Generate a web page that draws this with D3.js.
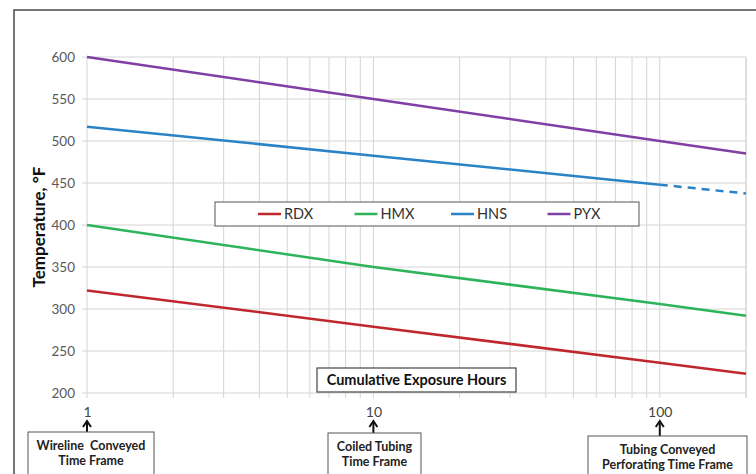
<!DOCTYPE html>
<html>
<head>
<meta charset="utf-8">
<script src="https://cdn.jsdelivr.net/npm/d3@7"></script>
<style>
  body { margin: 0; background: #fff; }
  svg { display: block; font-family: Lato, "Open Sans", sans-serif; }
</style>
</head>
<body>
<svg id="chart" width="756" height="474"></svg>
<script>
// exposure hours (log axis)
var hours = [1, 10, 100, 200];
var series = ["RDX", "HMX", "HNS", "PYX"];
var colors = ["#c0272d", "#2db45a", "#2a83c6", "#7f3fa5"];
var rdx = [322, 279, 236, 223];
var hmx = [400, 350, 306, 292];
var hns = [517, 482.5, 448, 437.5];
var pyx = [600, 550, 500, 485];
var yTicks = [200, 250, 300, 350, 400, 450, 500, 550, 600];
var xLabels = [1, 10, 100];
var frames = [
    ["Wireline  Conveyed", "Time Frame"],
    ["Coiled Tubing", "Time Frame"],
    ["Tubing Conveyed", "Perforating Time Frame"]
];

var svg = d3.select("#chart");
var margin = {top: 57, left: 87, right: 10, bottom: 81},
    width = +svg.attr("width"),
    height = +svg.attr("height");

var x = d3.scaleLog()
    .domain([1, 200])
    .range([margin.left, 746]);

var y = d3.scaleLinear()
    .domain([200, 600])
    .range([393, margin.top]);

// outer frame (cut off at the right and bottom)
svg.append("path")
    .attr("d", "M14," + height + " V10 H" + width)
    .attr("fill", "none")
    .attr("stroke", "#4a4a4a")
    .attr("stroke-width", 1.5);

// grid
var gridX = [];
for (var d = 1; d < 200; d *= 10) {
    for (var k = 1; k <= 9; k++) {
        if (d * k <= 200) gridX.push(d * k);
    }
}
gridX.push(200);

svg.append("g")
    .selectAll("line")
    .data(gridX)
    .enter()
    .append("line")
    .attr("x1", function(d) { return x(d); })
    .attr("x2", function(d) { return x(d); })
    .attr("y1", y(600))
    .attr("y2", y(200) + 5)
    .attr("stroke", "#d4d4d4")
    .attr("stroke-width", 1);

svg.append("g")
    .selectAll("line")
    .data(yTicks)
    .enter()
    .append("line")
    .attr("x1", x(1) - 5)
    .attr("x2", x(200))
    .attr("y1", function(d) { return y(d); })
    .attr("y2", function(d) { return y(d); })
    .attr("stroke", "#d4d4d4")
    .attr("stroke-width", 1);

// y axis labels
var yAxis = svg.append("g")
    .attr("transform", "translate(" + (x(1) - 3) + ",0)")
    .call(d3.axisLeft(y).tickValues(yTicks).tickSize(0).tickPadding(9));
yAxis.select(".domain").remove();
yAxis.selectAll("text")
    .attr("font-size", 13.5)
    .attr("fill", "#595959")
    .attr("font-family", "Lato, sans-serif");

svg.append("text")
    .attr("transform", "translate(45,227) rotate(-90)")
    .attr("text-anchor", "middle")
    .attr("font-size", 17)
    .attr("font-weight", "bold")
    .attr("fill", "#111")
    .text("Temperature, °F");

// x axis labels
var xAxis = svg.append("g")
    .attr("transform", "translate(0," + y(200) + ")")
    .call(d3.axisBottom(x).tickValues(xLabels).tickFormat(d3.format("d")).tickSize(0).tickPadding(14));
xAxis.select(".domain").remove();
xAxis.selectAll("text")
    .attr("font-size", 14)
    .attr("fill", "#444")
    .attr("font-family", "Lato, sans-serif");

// lines
var line = d3.line()
    .x(function(d) { return x(d[0]); })
    .y(function(d) { return y(d[1]); });

var allValues = [rdx, hmx, hns, pyx];
allValues.forEach(function(vals, i) {
    var pts = hours.map(function(h, j) { return [h, vals[j]]; });
    if (series[i] === "HNS") {
        svg.append("path")
            .attr("d", line(pts.slice(0, 3)))
            .attr("fill", "none")
            .attr("stroke", colors[i])
            .attr("stroke-width", 2.5);
        svg.append("path")
            .attr("d", line(pts.slice(2)))
            .attr("fill", "none")
            .attr("stroke", colors[i])
            .attr("stroke-width", 2.5)
            .attr("stroke-dasharray", "8,6");
    } else {
        svg.append("path")
            .attr("d", line(pts))
            .attr("fill", "none")
            .attr("stroke", colors[i])
            .attr("stroke-width", 2.5);
    }
});

// legend
var legend = svg.append("g").attr("transform", "translate(215,202)");
legend.append("rect")
    .attr("width", 424)
    .attr("height", 24)
    .attr("fill", "#fff")
    .attr("stroke", "#555")
    .attr("stroke-width", 1);

var items = legend.selectAll(".item")
    .data(series)
    .enter()
    .append("g")
    .attr("class", "item")
    .attr("transform", function(d, i) { return "translate(" + (43 + i * 96.5) + ",12)"; });
items.append("line")
    .attr("x1", 0)
    .attr("x2", 23)
    .attr("stroke", function(d, i) { return colors[i]; })
    .attr("stroke-width", 2.5);
items.append("text")
    .attr("x", 26)
    .attr("dy", "0.35em")
    .attr("font-size", 14.5)
    .attr("fill", "#333")
    .text(function(d) { return d; });

// x axis title box
var title = svg.append("g").attr("transform", "translate(317,368)");
title.append("rect")
    .attr("width", 199)
    .attr("height", 24)
    .attr("fill", "#fff")
    .attr("stroke", "#444")
    .attr("stroke-width", 1.2);
title.append("text")
    .attr("x", 99.5)
    .attr("y", 12)
    .attr("dy", "0.36em")
    .attr("text-anchor", "middle")
    .attr("font-size", 14.5)
    .attr("font-weight", "bold")
    .attr("fill", "#111")
    .text("Cumulative Exposure Hours");

// time frame annotations
var boxes = [
    {x: 28, y: 432, w: 126},
    {x: 328, y: 433, w: 93},
    {x: 588, y: 436, w: 159}
];
xLabels.forEach(function(h, i) {
    var cx = x(h);
    svg.append("line")
        .attr("x1", cx).attr("x2", cx)
        .attr("y1", boxes[i].y).attr("y2", 423)
        .attr("stroke", "#111")
        .attr("stroke-width", 2);
    svg.append("path")
        .attr("d", "M" + (cx - 4) + ",427 L" + cx + ",421 L" + (cx + 4) + ",427")
        .attr("fill", "none")
        .attr("stroke", "#111")
        .attr("stroke-width", 2);
    var g = svg.append("g").attr("transform", "translate(" + boxes[i].x + "," + boxes[i].y + ")");
    g.append("rect")
        .attr("width", boxes[i].w)
        .attr("height", 60)
        .attr("fill", "#fff")
        .attr("stroke", "#555")
        .attr("stroke-width", 1);
    frames[i].forEach(function(t, j) {
        g.append("text")
            .attr("x", boxes[i].w / 2)
            .attr("y", 17.5 + j * 15.5)
            .attr("text-anchor", "middle")
            .attr("font-size", 12.5)
            .attr("font-weight", "bold")
            .attr("fill", "#222")
            .style("white-space", "pre")
            .text(t);
    });
});
</script>
</body>
</html>
